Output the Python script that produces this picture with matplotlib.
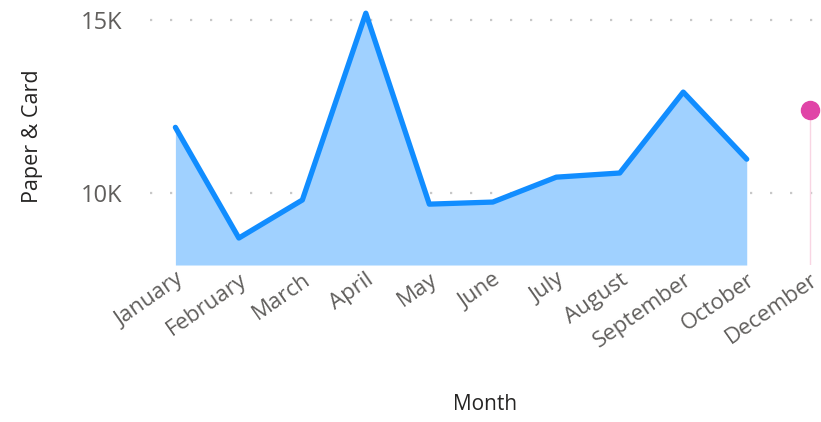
import matplotlib.pyplot as plt
from matplotlib.ticker import FuncFormatter
from matplotlib.transforms import ScaledTranslation

plt.rcParams['font.family'] = ['Open Sans', 'DejaVu Sans']

months = ['January', 'February', 'March', 'April', 'May', 'June',
          'July', 'August', 'September', 'October', 'December']
paper_card = [11900, 8700, 9800, 15200, 9680, 9740, 10460, 10580, 12920, 10980]
december_value = 12400

x = list(range(len(months)))
x_main = x[:len(paper_card)]
x_dec = x[-1]

ymin, ymax = 7920, 15350

fig = plt.figure(figsize=(8.21, 4.22), dpi=100)
ax = fig.add_axes([0.1827, 0.372, 0.8173, 0.609])

# gridlines
for v in [10000, 15000]:
    ax.axhline(v, color='#c8c8c8', linestyle=(0, (1, 8)), linewidth=1.6, zorder=0)

ax.fill_between(x_main, paper_card, ymin, color='#A0D1FF', linewidth=0, zorder=1)
ax.plot(x_main, paper_card, color='#118DFF', linewidth=3.8, solid_joinstyle='round',
        solid_capstyle='round', zorder=3)

# december point
ax.vlines(x_dec, ymin, december_value, color='#F9D5E3', linewidth=1, zorder=2)
ax.plot([x_dec], [december_value], 'o', color='#E044A7', markersize=13, zorder=4)

ax.set_xlim(-0.4, 10.17)
ax.set_ylim(ymin, ymax)
ax.set_yticks([10000, 15000])
ax.yaxis.set_major_formatter(FuncFormatter(lambda v, p: f'{int(v / 1000)}K'))
ax.set_xticks(x)
ax.set_xticklabels(months, rotation=35, ha='right', rotation_mode='anchor')

# shift x labels a little left, like the reference
shift = ScaledTranslation(-8 / 100, 0, fig.dpi_scale_trans)
for lbl in ax.get_xticklabels():
    lbl.set_transform(lbl.get_transform() + shift)

for s in ax.spines.values():
    s.set_visible(False)
ax.tick_params(axis='both', length=0, colors='#605E5C')
ax.tick_params(axis='y', labelsize=17, pad=20)
ax.tick_params(axis='x', labelsize=16, pad=3)

ax.set_ylabel('Paper & Card', fontsize=15.5, color='#252423', labelpad=27)
ax.set_xlabel('Month', fontsize=15, color='#252423', labelpad=30)

fig.savefig('out.png', dpi=100)
